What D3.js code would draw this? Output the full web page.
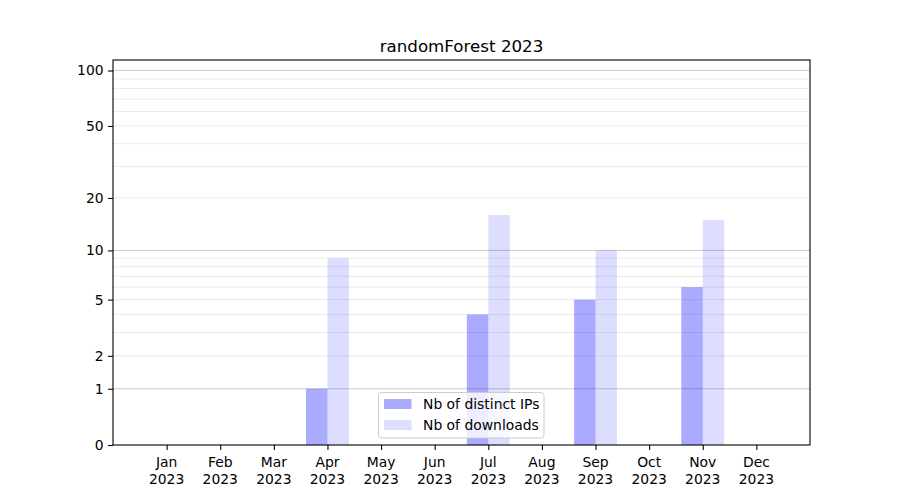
<!DOCTYPE html>
<html>
<head>
<meta charset="utf-8">
<script src="https://cdn.jsdelivr.net/npm/d3@7"></script>
<style>
  html, body { margin: 0; padding: 0; background: #fff; }
  svg { display: block; font-family: "DejaVu Sans", sans-serif; }
</style>
</head>
<body>
<svg id="chart" width="900" height="500"></svg>
<script>
const title = "randomForest 2023";
const months = ["Jan","Feb","Mar","Apr","May","Jun","Jul","Aug","Sep","Oct","Nov","Dec"];
const yearLabel = "2023";
const distinctIPs = [0, 0, 0, 1, 0, 0, 4, 0, 5, 0, 6, 0];
const downloads   = [0, 0, 0, 9, 0, 0, 16, 0, 10, 0, 15, 0];
const yTickValues = [0, 1, 2, 5, 10, 20, 50, 100];
const majorGrid = [1, 10, 100];
const minorGrid = [2, 3, 4, 5, 6, 7, 8, 9, 20, 30, 40, 50, 60, 70, 80, 90];
const seriesNames = ["Nb of distinct IPs", "Nb of downloads"];
const seriesColors = ["rgba(0,0,255,0.333)", "rgba(0,0,255,0.133)"];

const svg = d3.select("#chart");
const L = 113, R = 810, T = 60, B = 445;

const x = d3.scaleLinear().domain([-1, 12]).range([L, R]);
const y = d3.scaleSymlog().constant(1).domain([0, 114]).range([B, T]);
const barW = 0.4;

// grid
const g = svg.append("g");
g.selectAll("line.minor").data(minorGrid).join("line")
  .attr("x1", L).attr("x2", R)
  .attr("y1", d => y(d)).attr("y2", d => y(d))
  .attr("stroke", "#ebebeb").attr("stroke-width", 1);
g.selectAll("line.major").data(majorGrid).join("line")
  .attr("x1", L).attr("x2", R)
  .attr("y1", d => y(d)).attr("y2", d => y(d))
  .attr("stroke", "#cbcbcb").attr("stroke-width", 1);

// bars
const idx = d3.range(months.length);
svg.append("g").selectAll("rect").data(idx.filter(i => distinctIPs[i] > 0)).join("rect")
  .attr("x", i => x(i - barW)).attr("width", i => x(i) - x(i - barW))
  .attr("y", i => y(distinctIPs[i])).attr("height", i => y(0) - y(distinctIPs[i]))
  .attr("fill", seriesColors[0]);
svg.append("g").selectAll("rect").data(idx.filter(i => downloads[i] > 0)).join("rect")
  .attr("x", i => x(i)).attr("width", i => x(i + barW) - x(i))
  .attr("y", i => y(downloads[i])).attr("height", i => y(0) - y(downloads[i]))
  .attr("fill", seriesColors[1]);

// axes frame
svg.append("rect").attr("x", L).attr("y", T).attr("width", R - L).attr("height", B - T)
  .attr("fill", "none").attr("stroke", "#000").attr("stroke-width", 1.1);

// y axis
const yAxis = svg.append("g").attr("transform", `translate(${L},0)`)
  .call(d3.axisLeft(y).tickValues(yTickValues).tickFormat(d3.format("d")).tickSize(4.9).tickPadding(4.5));
yAxis.select(".domain").remove();
yAxis.selectAll("text").attr("font-size", "13.9px").attr("fill", "#000").attr("font-family", "DejaVu Sans");
yAxis.selectAll("line").attr("stroke-width", 1.1);

// x axis
const xAxis = svg.append("g").attr("transform", `translate(0,${B})`)
  .call(d3.axisBottom(x).tickValues(idx).tickFormat("").tickSize(4.9));
xAxis.select(".domain").remove();
xAxis.selectAll("line").attr("stroke-width", 1.1);
const xl = svg.append("g").selectAll("text").data(idx).join("text")
  .attr("x", i => x(i)).attr("text-anchor", "middle")
  .attr("font-size", "13.9px").attr("fill", "#000");
xl.append("tspan").attr("x", i => x(i)).attr("y", 467).text(i => months[i]);
xl.append("tspan").attr("x", i => x(i)).attr("y", 484).text(yearLabel);

// title
svg.append("text").attr("x", (L + R) / 2).attr("y", 52).attr("text-anchor", "middle")
  .attr("font-size", "16.7px").attr("fill", "#000").text(title);

// legend
const lg = svg.append("g");
lg.append("rect").attr("x", 378.5).attr("y", 392.5).attr("width", 165.5).attr("height", 45.5)
  .attr("rx", 3).attr("fill", "rgba(255,255,255,0.8)").attr("stroke", "#cccccc").attr("stroke-width", 1);
seriesNames.forEach((name, k) => {
  lg.append("rect").attr("x", 384).attr("y", 399 + k * 21).attr("width", 27.5).attr("height", 10)
    .attr("fill", seriesColors[k]);
  lg.append("text").attr("x", 423).attr("y", 409 + k * 21)
    .attr("font-size", "13.9px").attr("fill", "#000").text(name);
});
</script>
</body>
</html>
